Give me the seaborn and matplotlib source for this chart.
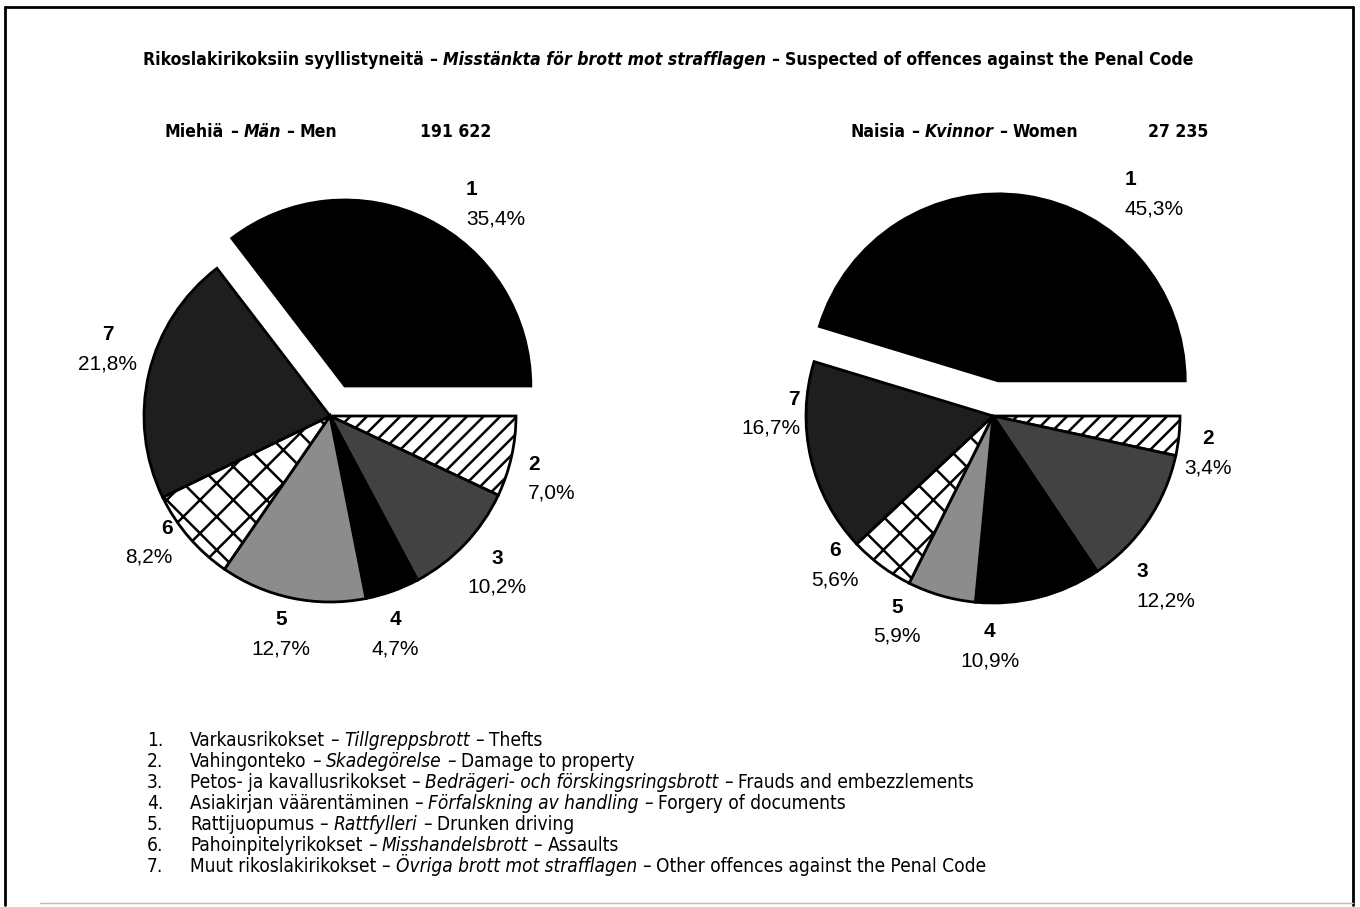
import numpy as np
import pandas as pd
import matplotlib
matplotlib.use("Agg")
import matplotlib.pyplot as plt
import matplotlib.transforms as mtransforms
from matplotlib.lines import Line2D
from matplotlib import font_manager as fm
import seaborn as sns

# ---------------- data ----------------
categories = ["1", "2", "3", "4", "5", "6", "7"]
men_pct = [35.4, 7.0, 10.2, 4.7, 12.7, 8.2, 21.8]
women_pct = [45.3, 3.4, 12.2, 10.9, 5.9, 5.6, 16.7]
men_total = "191 622"
women_total = "27 235"

legend_fi = ["Varkausrikokset", "Vahingonteko", "Petos- ja kavallusrikokset",
             "Asiakirjan väärentäminen", "Rattijuopumus", "Pahoinpitelyrikokset",
             "Muut rikoslakirikokset"]
legend_sv = ["Tillgreppsbrott", "Skadegörelse", "Bedrägeri- och förskingsringsbrott",
             "Förfalskning av handling", "Rattfylleri", "Misshandelsbrott",
             "Övriga brott mot strafflagen"]
legend_en = ["Thefts", "Damage to property", "Frauds and embezzlements",
             "Forgery of documents", "Drunken driving", "Assaults",
             "Other offences against the Penal Code"]

title_fi = "Rikoslakirikoksiin syyllistyneitä"
title_sv = "Misstänkta för brott mot strafflagen"
title_en = "Suspected of offences against the Penal Code"
men_fi, men_sv, men_en = "Miehiä", "Män", "Men"
women_fi, women_sv, women_en = "Naisia", "Kvinnor", "Women"

# ---------------- style ----------------
slice_faces = ["black", "white", "#424242", "black", "#8c8c8c", "white", "#1e1e1e"]
slice_hatch = [None, "//", None, None, None, "x", None]

# label placement: (distance in radii, angle nudge in degrees, alignment)
men_lab = [(1.355, -6.4, "left"), (1.116, -4.8, "left"), (1.229, 0.5, "center"),
           (1.223, -3.0, "center"), (1.201, -1.0, "center"), (1.085, -2.0, "right"),
           (1.247, -3.5, "center")]
women_lab = [(1.381, -22.2, "left"), (1.167, -3.6, "center"), (1.188, -15.7, "left"),
             (1.230, -15.0, "center"), (1.211, -9.1, "center"), (1.161, -10.0, "center"),
             (1.032, -14.0, "right")]

W, H = 1360, 907
sns.set_theme(style="white")
plt.rcParams["hatch.linewidth"] = 1.8
plt.rcParams["hatch.color"] = "black"
plt.rcParams["text.color"] = "black"

names = {f.name for f in fm.fontManager.ttflist}
cond_family, cond_stretch = "Liberation Sans", "normal"
if "Liberation Sans Narrow" in names:
    cond_family, cond_stretch = "Liberation Sans Narrow", "normal"
elif any(f.name == "DejaVu Sans" and f.stretch == "condensed" for f in fm.fontManager.ttflist):
    cond_family, cond_stretch = "DejaVu Sans", "condensed"
plt.rcParams["font.family"] = ["Liberation Sans", "DejaVu Sans"]

fig = plt.figure(figsize=(W / 100, H / 100), dpi=100)
fig.patch.set_facecolor("white")
renderer = fig.canvas.get_renderer()


def fx(x):
    return x / W


def fy(y):
    return 1 - y / H


def twidth(s, **kw):
    t = fig.text(0, 0, s, **kw)
    w = t.get_window_extent(renderer).width
    t.remove()
    return w


def draw_runs(x, y, runs, ha="left", size=12, family=None, stretch="normal", weight="normal"):
    base = dict(fontsize=size, family=family, stretch=stretch, weight=weight)
    sw = twidth("a a", **base) - twidth("aa", **base)
    widths = [twidth(s, **{**base, **st}) for s, st in runs]
    total = sum(widths) + sw * (len(runs) - 1)
    if ha == "center":
        x -= total / 2
    elif ha == "right":
        x -= total
    for (s, st), w in zip(runs, widths):
        fig.text(fx(x), fy(y), s, ha="left", va="baseline", color="black", **{**base, **st})
        x += w + sw
    return total


def runs_width(runs, size, family, stretch, weight):
    base = dict(fontsize=size, family=family, stretch=stretch, weight=weight)
    sw = twidth("a a", **base) - twidth("aa", **base)
    return sum(twidth(s, **{**base, **st}) for s, st in runs) + sw * (len(runs) - 1)


IT = {"style": "italic"}
N = {}

# ---------------- title ----------------
title_runs = [(title_fi, N), ("–", N), (title_sv, IT), ("–", N), (title_en, N)]
w10 = runs_width(title_runs, 10, cond_family, cond_stretch, "bold")
tsize = 10 * 1043 / w10
draw_runs(668, 65, title_runs, ha="center", size=tsize, family=cond_family,
          stretch=cond_stretch, weight="bold")

# subtitles
draw_runs(165, 137, [(men_fi, N), ("–", N), (men_sv, IT), ("–", N), (men_en, N)],
          size=tsize, family=cond_family, stretch=cond_stretch, weight="bold")
draw_runs(420, 137, [(men_total, N)], size=tsize, family=cond_family,
          stretch=cond_stretch, weight="bold")
draw_runs(851, 137, [(women_fi, N), ("–", N), (women_sv, IT), ("–", N), (women_en, N)],
          size=tsize, family=cond_family, stretch=cond_stretch, weight="bold")
draw_runs(1148, 137, [(women_total, N)], size=tsize, family=cond_family,
          stretch=cond_stretch, weight="bold")

# ---------------- legend ----------------
leg_runs = [[(fi, N), ("–", N), (sv, IT), ("–", N), (en, N)]
            for fi, sv, en in zip(legend_fi, legend_sv, legend_en)]
w10 = runs_width(leg_runs[-1], 10, cond_family, cond_stretch, "normal")
lsize = 10 * 798 / w10
for i, (cat, runs) in enumerate(zip(categories, leg_runs)):
    yb = 746 + 21 * i
    draw_runs(147, yb, [(cat + ".", N)], size=lsize, family=cond_family, stretch=cond_stretch)
    draw_runs(190, yb, runs, size=lsize, family=cond_family, stretch=cond_stretch)


# ---------------- pies ----------------
def pie_panel(cx, cy, R, values, explode_amt, labspec):
    half = 330
    ax = fig.add_axes([fx(cx - half), fy(cy + half), 2 * half / W, 2 * half / H])
    explode = [explode_amt] + [0] * (len(values) - 1)
    wedges, _ = ax.pie(values, explode=explode, startangle=3.6 * values[0],
                       counterclock=False, colors=slice_faces, radius=1.0,
                       wedgeprops=dict(edgecolor="black", linewidth=2.0),
                       normalize=True)
    lim = half / R
    ax.set_xlim(-lim, lim)
    ax.set_ylim(-lim, lim)
    ax.set_aspect("equal")
    ax.axis("off")
    for wdg, h in zip(wedges, slice_hatch):
        if h:
            wdg.set_hatch(h)
    up = mtransforms.offset_copy(ax.transData, fig=fig, x=0, y=14, units="dots")
    dn = mtransforms.offset_copy(ax.transData, fig=fig, x=0, y=-15, units="dots")
    for wdg, cat, v, (d, nudge, ha) in zip(wedges, categories, values, labspec):
        mid = np.deg2rad((wdg.theta1 + wdg.theta2) / 2 + nudge)
        x, y = d * np.cos(mid), d * np.sin(mid)
        ax.text(x, y, cat, transform=up, ha=ha, va="center", fontsize=15,
                weight="bold", color="black", family=["Liberation Sans", "DejaVu Sans"])
        ax.text(x, y, f"{v:.1f}".replace(".", ",") + "%", transform=dn, ha=ha,
                va="center", fontsize=15, color="black",
                family=["Liberation Sans", "DejaVu Sans"])
    return ax


pie_panel(330, 416, 186, men_pct, 0.18, men_lab)
pie_panel(993, 416, 187, women_pct, 0.19, women_lab)

# ---------------- frame ----------------
for xs, ys, c, lw in [([5, 5], [7, 905], "black", 2.0),
                      ([5, 1353], [7, 7], "black", 2.0),
                      ([1353, 1353], [7, 905], "black", 2.0),
                      ([40, 1353], [903, 903], "#bbbbbb", 1.0)]:
    fig.add_artist(Line2D([fx(v) for v in xs], [fy(v) for v in ys], color=c,
                          linewidth=lw, transform=fig.transFigure))

fig.savefig("out.png", dpi=100, facecolor="white")
